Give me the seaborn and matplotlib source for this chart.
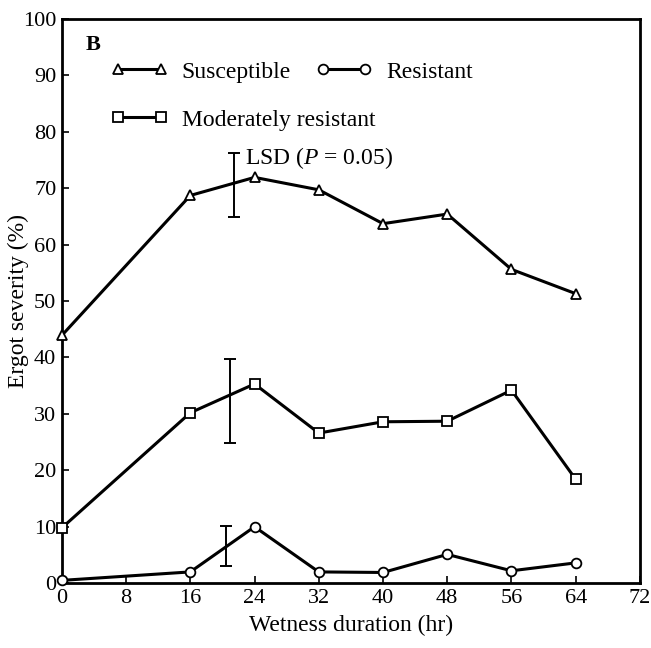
import matplotlib
matplotlib.use("Agg")
import matplotlib.pyplot as plt
import seaborn as sns
import pandas as pd
import numpy as np

hours = [0, 16, 24, 32, 40, 48, 56, 64]
susceptible = [43.9, 68.7, 71.9, 69.7, 63.7, 65.4, 55.6, 51.3]
moderate = [9.8, 30.2, 35.3, 26.6, 28.6, 28.7, 34.2, 18.4]
resistant = [0.5, 2.0, 10.0, 2.0, 1.9, 5.1, 2.2, 3.6]

lsd_x = [21.5, 21.0, 20.5]
lsd_center = [70.5, 32.3, 6.6]
lsd_half = [5.7, 7.5, 3.5]

x_ticks = list(range(0, 73, 8))
y_ticks = list(range(0, 101, 10))

sns.set_style("ticks")
plt.rcParams["font.family"] = ["Liberation Serif", "DejaVu Serif"]
plt.rcParams["mathtext.fontset"] = "custom"
plt.rcParams["mathtext.it"] = "Liberation Serif:italic"
plt.rcParams["mathtext.rm"] = "Liberation Serif"
for k in ["text.color", "axes.labelcolor", "xtick.color", "ytick.color", "axes.edgecolor"]:
    plt.rcParams[k] = "black"

fig = plt.figure(figsize=(6.51, 6.48), dpi=100)
ax = fig.add_axes([0.095, 0.100, 0.888, 0.871])

df = pd.DataFrame({
    "hr": hours * 3,
    "val": susceptible + moderate + resistant,
    "grp": ["Susceptible"] * 8 + ["Moderately resistant"] * 8 + ["Resistant"] * 8,
})

markers = {"Susceptible": "^", "Moderately resistant": "s", "Resistant": "o"}
for g in ["Susceptible", "Moderately resistant", "Resistant"]:
    sub = df[df["grp"] == g]
    sns.lineplot(data=sub, x="hr", y="val", ax=ax, color="black", linewidth=2.2,
                 marker=markers[g], markersize=7, markerfacecolor="white",
                 markeredgecolor="black", markeredgewidth=1.3, label=g,
                 clip_on=False, zorder=3)

ax.errorbar(lsd_x, lsd_center, yerr=lsd_half, fmt="none", ecolor="black",
            elinewidth=1.4, capsize=4, capthick=1.4, zorder=2)

ax.text(22.8, 75.4, r"LSD ($P$ = 0.05)", fontsize=17, va="center", ha="left")
ax.text(3.0, 95.3, "B", fontsize=16, fontweight="bold", va="center", ha="left")

ax.set_xlim(0, 72)
ax.set_ylim(0, 100)
ax.set_xticks(x_ticks)
ax.set_yticks(y_ticks)
ax.tick_params(direction="in", length=5, width=1.2, labelsize=16, pad=4,
               colors="black")
for s in ax.spines.values():
    s.set_linewidth(2.0)
    s.set_color("black")
    s.set_visible(True)

ax.set_xlabel("Wetness duration (hr)", fontsize=17, labelpad=5)
ax.set_ylabel("Ergot severity (%)", fontsize=17, va="center")
ax.yaxis.set_label_coords(-0.076, 0.5)

h, l = ax.get_legend_handles_labels()
hd = dict(zip(l, h))
common = dict(frameon=False, fontsize=17, handlelength=2.4, handletextpad=0.6,
              borderpad=0, borderaxespad=0, numpoints=2, loc="center left")
leg1 = ax.legend([hd["Susceptible"], hd["Resistant"]], ["Susceptible", "Resistant"],
                 ncol=2, columnspacing=1.05, bbox_to_anchor=(0.085, 0.906), **common)
ax.add_artist(leg1)
leg2 = ax.legend([hd["Moderately resistant"]], ["Moderately resistant"],
                 bbox_to_anchor=(0.085, 0.821), **common)

fig.savefig("out.png", dpi=100)
